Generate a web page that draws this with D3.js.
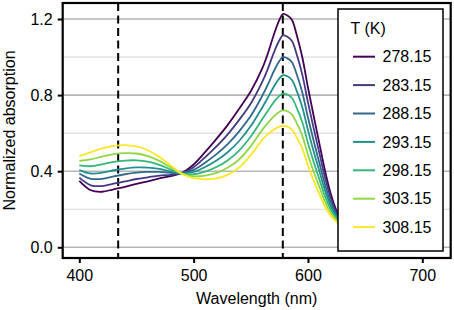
<!DOCTYPE html>
<html lang="en">
<head>
    <meta charset="UTF-8">
    <title>Normalized absorption vs wavelength</title>
    <script src="https://cdn.jsdelivr.net/npm/d3@7/dist/d3.min.js"></script>
    <style>
        body { margin: 0; background: #fff; }
        svg text {
            font-family: "Liberation Sans", Arial, sans-serif;
            font-size: 16px;
            fill: #000;
        }
        .axis line { stroke: #000; stroke-width: 2; }
        .axis path { display: none; }
    </style>
</head>
<body>
<script>
    // temperatures (legend)
    const temps = ['278.15', '283.15', '288.15', '293.15', '298.15', '303.15', '308.15'];
    const colors = ['#440154', '#443a83', '#31688e', '#21908c', '#35b779', '#8fd744', '#fde725'];

    // wavelengths (nm) at which the curves were read
    const wavelength = [400, 410, 420, 430, 440, 450, 460, 470, 480, 490, 500, 510, 520, 530, 540, 550,
        560, 565, 570, 575, 578, 582, 586, 590, 595, 600, 605, 610, 615, 620, 625, 630, 640];

    // normalized absorption, one array per temperature
    const abs278 = [.349, .300, .292, .305, .318, .333, .347, .362, .374, .392, .435, .500, .570, .645, .730, .820,
        .940, 1.020, 1.115, 1.195, 1.226, 1.218, 1.195, 1.120, 1.000, .840, .690, .545, .400, .280, .190, .120, .050];
    const abs283 = [.366, .326, .322, .335, .346, .359, .368, .377, .381, .391, .421, .473, .530, .595, .671, .756,
        .869, .939, 1.021, 1.088, 1.114, 1.107, 1.085, 1.017, .909, .762, .625, .495, .364, .258, .179, .116, .050];
    const abs288 = [.388, .360, .360, .373, .384, .392, .396, .396, .391, .390, .407, .445, .490, .544, .611, .691,
        .796, .856, .924, .979, 1.000, .993, .973, .912, .815, .682, .559, .443, .328, .236, .168, .112, .050];
    const abs293 = [.406, .388, .392, .405, .414, .420, .419, .412, .399, .389, .396, .422, .456, .501, .560, .637,
        .735, .788, .843, .888, .904, .899, .879, .825, .737, .616, .504, .400, .297, .217, .159, .109, .050];
    const abs298 = [.431, .426, .436, .449, .456, .457, .450, .433, .409, .388, .384, .398, .422, .458, .510, .582,
        .673, .718, .762, .796, .808, .803, .785, .736, .659, .548, .448, .357, .266, .198, .149, .106, .050];
    const abs303 = [.454, .462, .477, .490, .495, .493, .479, .454, .419, .386, .373, .377, .391, .419, .463, .532,
        .617, .654, .687, .712, .720, .715, .698, .655, .587, .487, .397, .317, .238, .181, .141, .103, .050];
    const abs308 = [.479, .500, .520, .533, .537, .530, .510, .475, .430, .385, .363, .357, .362, .382, .420, .485,
        .565, .595, .618, .634, .638, .634, .618, .580, .520, .430, .350, .280, .212, .165, .133, .100, .050];
    const series = [abs278, abs283, abs288, abs293, abs298, abs303, abs308];

    // axis ticks and reference lines
    const xTicks = [400, 500, 600, 700];
    const yMajor = [0, 0.4, 0.8, 1.2];
    const yMinor = [0.2, 0.6, 1.0];
    const dashedAt = [434, 578];

    const w = 454, h = 310;
    const panel = {left: 62.7, right: 450.7, top: 3, bottom: 258};

    const svg = d3.select('body').append('svg')
        .attr('width', w)
        .attr('height', h);

    const xScale = d3.scaleLinear().domain([400, 700]).range([79.3, 422.3]);
    const yScale = d3.scaleLinear().domain([0, 1.2]).range([247.3, 19]);

    svg.append('defs').append('clipPath').attr('id', 'clip')
        .append('rect')
        .attr('x', panel.left).attr('y', panel.top)
        .attr('width', panel.right - panel.left).attr('height', panel.bottom - panel.top);

    // grid lines
    svg.append('g').selectAll('line')
        .data(yMinor).enter().append('line')
        .attr('x1', panel.left).attr('x2', panel.right)
        .attr('y1', d => yScale(d)).attr('y2', d => yScale(d))
        .attr('stroke', '#d6d6d6').attr('stroke-width', 1);
    svg.append('g').selectAll('line')
        .data(yMajor).enter().append('line')
        .attr('x1', panel.left).attr('x2', panel.right)
        .attr('y1', d => yScale(d)).attr('y2', d => yScale(d))
        .attr('stroke', '#b5b5b5').attr('stroke-width', 1.6);

    // dashed markers
    svg.append('g').selectAll('line')
        .data(dashedAt).enter().append('line')
        .attr('x1', d => xScale(d)).attr('x2', d => xScale(d))
        .attr('y1', panel.top).attr('y2', panel.bottom)
        .attr('stroke', '#000').attr('stroke-width', 2)
        .attr('stroke-dasharray', '8,4.5');

    // curves
    const line = d3.line()
        .x((d, i) => xScale(wavelength[i]))
        .y(d => yScale(d))
        .curve(d3.curveCatmullRom.alpha(0.5));

    svg.append('g').attr('clip-path', 'url(#clip)')
        .selectAll('path')
        .data(series).enter().append('path')
        .attr('d', line)
        .attr('fill', 'none')
        .attr('stroke', (d, i) => colors[i])
        .attr('stroke-width', 1.8);

    // legend
    const lg = svg.append('g');
    lg.append('rect')
        .attr('x', 338).attr('y', 9)
        .attr('width', 105).attr('height', 242)
        .attr('fill', '#fff').attr('stroke', '#000').attr('stroke-width', 1.5);
    lg.append('text').attr('x', 350.5).attr('y', 34).text('T (K)');
    const items = lg.selectAll('g.item')
        .data(temps).enter().append('g')
        .attr('class', 'item')
        .attr('transform', (d, i) => 'translate(0,' + (56.7 + 28.4 * i) + ')');
    items.append('line')
        .attr('x1', 353).attr('x2', 375)
        .attr('stroke', (d, i) => colors[i]).attr('stroke-width', 2);
    items.append('text')
        .attr('x', 382.5).attr('dy', '0.36em')
        .text(d => d);

    // axes
    svg.append('g')
        .attr('class', 'axis')
        .attr('transform', 'translate(0,' + panel.bottom + ')')
        .call(d3.axisBottom(xScale).tickValues(xTicks).tickSize(5).tickSizeOuter(0).tickPadding(7));
    svg.append('g')
        .attr('class', 'axis')
        .attr('transform', 'translate(' + panel.left + ',0)')
        .call(d3.axisLeft(yScale).tickValues(yMajor).tickFormat(d3.format('.1f'))
            .tickSize(5).tickSizeOuter(0).tickPadding(5));
    svg.selectAll('.axis text')
        .attr('font-family', null).attr('font-size', null);

    // panel border
    svg.append('rect')
        .attr('x', panel.left).attr('y', panel.top)
        .attr('width', panel.right - panel.left).attr('height', panel.bottom - panel.top)
        .attr('fill', 'none').attr('stroke', '#000').attr('stroke-width', 2.2);

    // axis titles
    svg.append('text')
        .attr('x', (panel.left + panel.right) / 2).attr('y', 304)
        .attr('text-anchor', 'middle')
        .text('Wavelength (nm)');
    svg.append('text')
        .attr('transform', 'translate(15,' + (panel.top + panel.bottom) / 2 + ') rotate(-90)')
        .attr('text-anchor', 'middle')
        .text('Normalized absorption');
</script>
</body>
</html>
